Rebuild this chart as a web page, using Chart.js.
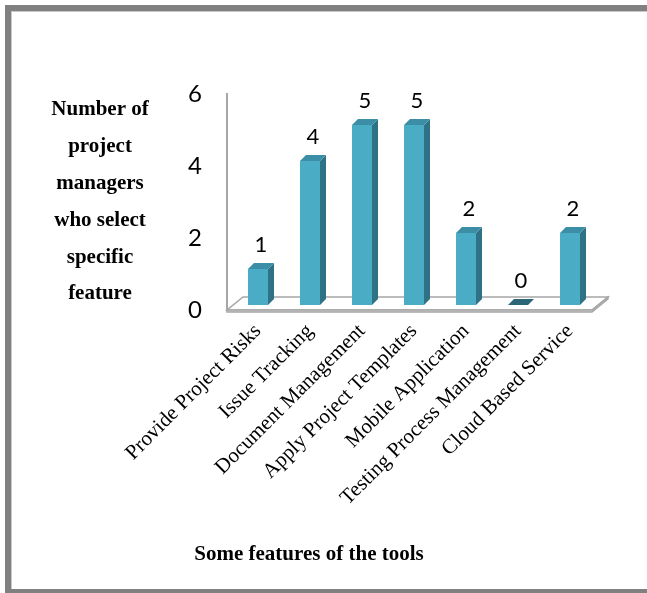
<!DOCTYPE html>
<html>
<head>
<meta charset="utf-8">
<script src="https://cdn.jsdelivr.net/npm/chart.js@4"></script>
<style>
html, body { margin: 0; padding: 0; background: #fff; overflow: hidden; }
#frame { position: absolute; left: 5px; top: 5px; width: 700px; height: 578px; border: 6px solid #808080; box-shadow: inset 1px 1px 0 #c8c8c8; }
#chart { position: absolute; left: 0; top: 0; }
</style>
</head>
<body>
<div id="frame"></div>
<canvas id="chart" width="647" height="593"></canvas>
<script>
var features = ['Provide Project Risks', 'Issue Tracking', 'Document Management', 'Apply Project Templates',
    'Mobile Application', 'Testing Process Management', 'Cloud Based Service'];
var managers = [1, 4, 5, 5, 2, 0, 2];
var yTicks = [0, 2, 4, 6];
var yTitleLines = ['Number of', 'project', 'managers', 'who select', 'specific', 'feature'];
var xTitle = 'Some features of the tools';

// fake 3D: wall, floor, bar tops and sides, value labels, titles
var bar3d = {
    id: 'bar3d',
    beforeDatasetsDraw: function (chart) {
        var a = chart.chartArea, c = chart.ctx;
        c.save();
        c.strokeStyle = '#a6a6a6';
        c.lineWidth = 2;
        c.beginPath();
        c.moveTo(a.left - 5, a.top + 4);
        c.lineTo(a.left - 5, a.bottom + 5);
        c.stroke();
        // floor slab
        c.fillStyle = '#ffffff';
        c.lineWidth = 1.5;
        c.beginPath();
        c.moveTo(a.left - 5, a.bottom + 5);
        c.lineTo(a.right - 4, a.bottom + 5);
        c.lineTo(a.right + 12, a.bottom - 8);
        c.lineTo(a.left + 11, a.bottom - 8);
        c.closePath();
        c.fill();
        c.stroke();
        c.fillStyle = '#d9d9d9';
        c.beginPath();
        c.moveTo(a.left - 5, a.bottom + 5);
        c.lineTo(a.right - 4, a.bottom + 5);
        c.lineTo(a.right + 12, a.bottom - 8);
        c.lineTo(a.right + 12, a.bottom - 6);
        c.lineTo(a.right - 4, a.bottom + 7);
        c.lineTo(a.left - 5, a.bottom + 7);
        c.closePath();
        c.fill();
        c.stroke();
        c.restore();
    },
    afterDatasetsDraw: function (chart) {
        var meta = chart.getDatasetMeta(0), c = chart.ctx, d = 6;
        c.save();
        meta.data.forEach(function (bar, i) {
            var l = bar.x - bar.width / 2, r = bar.x + bar.width / 2, t = bar.y, b = bar.base;
            c.fillStyle = '#2f7286';
            c.beginPath();
            c.moveTo(r, t); c.lineTo(r + d, t - d); c.lineTo(r + d, b - d); c.lineTo(r, b);
            c.closePath(); c.fill();
            c.fillStyle = managers[i] ? '#3b8ea5' : '#2b6577';
            c.beginPath();
            c.moveTo(l, t); c.lineTo(l + d, t - d); c.lineTo(r + d, t - d); c.lineTo(r, t);
            c.closePath(); c.fill();
            c.fillStyle = '#000';
            c.font = '22px Lato';
            c.textAlign = 'center';
            c.textBaseline = 'middle';
            c.fillText(String(managers[i]), bar.x + 3, t - 24);
        });
        c.restore();
    },
    afterDraw: function (chart) {
        var c = chart.ctx;
        c.save();
        c.fillStyle = '#000';
        c.font = 'bold 21px "Liberation Serif"';
        c.textAlign = 'center';
        c.textBaseline = 'middle';
        yTitleLines.forEach(function (line, i) {
            c.fillText(line, 100, 110 + i * 36.8);
        });
        c.fillText(xTitle, 309, 555);
        c.restore();
    }
};

var ctx = document.getElementById('chart').getContext('2d');
var myChart = new Chart(ctx, {
    type: 'bar',
    data: {
        labels: features,
        datasets: [{
            label: 'Number of project managers',
            data: managers,
            backgroundColor: '#4bacc6',
            borderWidth: 0,
            categoryPercentage: 1,
            barPercentage: 0.385
        }]
    },
    plugins: [bar3d],
    options: {
        responsive: false,
        animation: false,
        devicePixelRatio: 1,
        layout: { padding: { left: 0, top: 89, right: 51, bottom: 0 } },
        plugins: { legend: { display: false }, tooltip: { enabled: false } },
        scales: {
            x: {
                grid: { display: false, drawTicks: false },
                border: { display: false },
                ticks: {
                    autoSkip: false, minRotation: 45, maxRotation: 45, padding: 14,
                    color: '#000', font: { family: '"Liberation Serif"', size: 21 }
                },
                afterFit: function (s) { s.height = 288; }
            },
            y: {
                min: 0, max: 6,
                grid: { display: false, drawTicks: false },
                border: { display: false },
                afterBuildTicks: function (s) { s.ticks = yTicks.map(function (v) { return { value: v }; }); },
                ticks: { padding: 30, labelOffset: 5, color: '#000', font: { family: 'Lato', size: 24 } },
                afterFit: function (s) { s.width = 232; }
            }
        }
    }
});
</script>
</body>
</html>
